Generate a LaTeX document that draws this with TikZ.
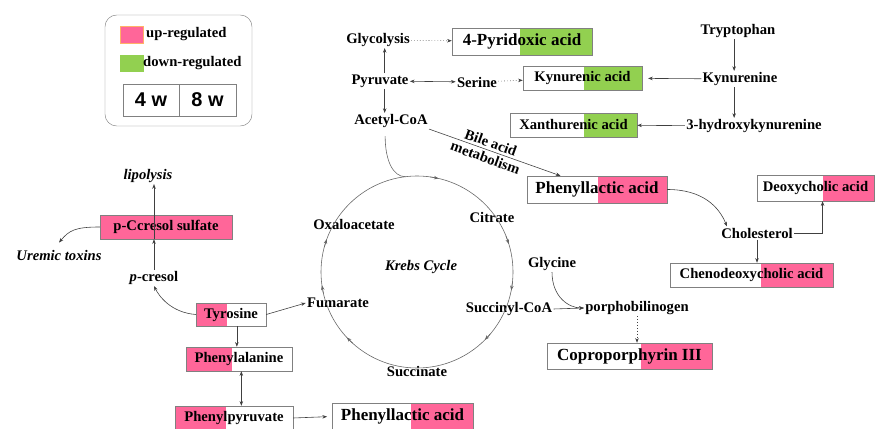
\documentclass[tikz,border=0pt]{standalone}
\usepackage{fontspec}
\setmainfont{Liberation Serif}
\newfontfamily\legendfont{Liberation Sans}
\usetikzlibrary{arrows.meta,calc}

\definecolor{upred}{RGB}{255,102,153}
\definecolor{downgreen}{RGB}{146,208,80}

\begin{document}
\begin{tikzpicture}[x=0.03cm,y=-0.03cm,
font=\bfseries\fontsize{12.5}{14}\selectfont,
every node/.style={inner sep=1pt},
big/.style={font=\bfseries\fontsize{14.5}{16}\selectfont},
ital/.style={font=\bfseries\itshape\fontsize{12.5}{14}\selectfont},
box/.style 2 args={draw=gray, fill=white, inner sep=0pt, minimum width=#1, minimum height=#2},
upr/.style={path picture={\fill[upred] ($(path picture bounding box.south west)!#1!(path picture bounding box.south east)$) rectangle (path picture bounding box.north east);}},
upl/.style={path picture={\fill[upred] (path picture bounding box.south west) rectangle ($(path picture bounding box.north west)!#1!(path picture bounding box.north east)$);}},
dnr/.style={path picture={\fill[downgreen] ($(path picture bounding box.south west)!#1!(path picture bounding box.south east)$) rectangle (path picture bounding box.north east);}},
link/.style={draw=black!75, line width=0.5pt, -{Stealth[length=4pt,width=3pt]}},
dlink/.style={draw=black!75, line width=0.5pt, {Stealth[length=4pt,width=3pt]}-{Stealth[length=4pt,width=3pt]}},
dotlink/.style={link, dotted},
cyc/.style={draw=black!60, line width=0.5pt}]

\useasboundingbox (0,0) rectangle (875,429);

\draw[gray, rounded corners=10pt] (105,15) rectangle (252,126);
\node[draw=orange!60, fill=upred, minimum width=0.69cm, minimum height=0.51cm, inner sep=0pt] (upkey) at (131.5,34.5) {};
\node[anchor=west, inner sep=0pt] (uplabel) at (146,34) {up-regulated};
\node[draw=downgreen, fill=downgreen, minimum width=0.69cm, minimum height=0.48cm, inner sep=0pt] (downkey) at (131.5,63) {};
\node[anchor=west, inner sep=0pt] (downlabel) at (143,63) {down-regulated};
\node[draw=gray, minimum width=1.68cm, minimum height=0.96cm, inner sep=0pt, font=\legendfont\bfseries\fontsize{17}{19}\selectfont] (week4) at (151,100) {4 w};
\node[draw=gray, minimum width=1.71cm, minimum height=0.96cm, inner sep=0pt, font=\legendfont\bfseries\fontsize{17}{19}\selectfont] (week8) at (207.5,100) {8 w};

\node (glyco) at (378,40) {Glycolysis};
\node (pyruv) at (380,81) {Pyruvate};
\node (serine) at (477,82) {Serine};
\node (acetyl) at (391,121) {Acetyl-CoA};
\node[box={4.2cm}{0.81cm}, dnr=0.486, big] (pyrid) at (522,41.5) {4-Pyridoxic acid};
\node[box={3.57cm}{0.72cm}, dnr=0.51] (kynac) at (582.5,78) {Kynurenic acid};
\node[box={3.81cm}{0.72cm}, dnr=0.58] (xanth) at (573.5,125) {Xanthurenic acid};
\node (trypto) at (738,31) {Tryptophan};
\node (kynur) at (740,79) {Kynurenine};
\node (hydroxy) at (754,126) {3-hydroxykynurenine};

\node[box={4.2cm}{0.81cm}, upr=0.51, big] (placA) at (597,189.5) {Phenyllactic acid};
\node (cholest) at (757,233) {Cholesterol};
\node[box={3.51cm}{0.78cm}, upr=0.56] (deoxy) at (815.5,188) {Deoxycholic acid};
\node[box={4.89cm}{0.72cm}, upr=0.56] (cheno) at (751.5,275) {Chenodeoxycholic acid};
\node (glycine) at (552,264) {Glycine};
\node (porpho) at (637,308) {porphobilinogen};
\node[box={4.95cm}{0.78cm}, upr=0.57, big] (copro) at (629.5,356) {Coproporphyrin III};

\node (oxalo) at (354,224) {Oxaloacetate};
\node (citrate) at (492,217) {Citrate};
\node (fumarate) at (338,303) {Fumarate};
\node (succoa) at (509,309) {Succinyl-CoA};
\node (succinate) at (417,372) {Succinate};
\node[ital] (krebs) at (421,267) {Krebs Cycle};

\node[ital] (lipo) at (148,176) {lipolysis};
\node[box={3.96cm}{0.72cm}, fill=upred] (sulf) at (166,227) {p-Ccresol sulfate};
\node[ital] (uremic) at (59,255) {Uremic toxins};
\node (pcres) at (154,278) {\textit{p}-cresol};
\node[box={2.1cm}{0.69cm}, upl=0.44] (tyros) at (231,314.5) {Tyrosine};
\node[box={3.18cm}{0.72cm}, upl=0.43] (phenala) at (239,359) {Phenylalanine};
\node[box={3.54cm}{0.72cm}, upl=0.43] (phenpyr) at (234,418) {Phenylpyruvate};
\node[box={4.23cm}{0.81cm}, upr=0.56, big] (placB) at (402.5,416.5) {Phenyllactic acid};

\draw[dotlink] (glyco) -- (pyrid);
\draw[link] ([xshift=4pt]pyruv.north) -- ([xshift=4pt]pyruv.north |- glyco.south);
\draw[link] ([xshift=4pt]pyruv.south) -- ([xshift=4pt]pyruv.south |- acetyl.north);
\draw[dlink] (pyruv) -- (serine);
\draw[dotlink] (serine) -- (kynac);
\draw[link] ([xshift=-5pt]kynur.north |- trypto.south) -- ([xshift=-5pt]kynur.north);
\draw[link, shorten >=5pt] (kynur) -- (kynac);
\draw[link] ([xshift=-5pt]kynur.south) -- ([xshift=-5pt]kynur.south |- hydroxy.north);
\draw[link] (hydroxy) -- (xanth);
\draw[link] (acetyl.south east) -- node[pos=0.45, rotate=-20, align=center, font=\bfseries\fontsize{12.5}{13.5}\selectfont] (bile) {Bile acid\\metabolism} ($(placA.north west)!0.24!(placA.north east)$);
\draw[link] (placA.east) .. controls +(35,0) and +(-8,-20) .. ([xshift=6pt]cholest.north west);
\draw[link] (cholest.east) -| ($(deoxy.south west)!0.56!(deoxy.south east)$);
\draw[link] (cholest.south) -- (cholest.south |- cheno.north);
\draw[link] (glycine.south) .. controls +(0,25) and +(-15,0) .. (porpho.west);
\draw[link] (succoa.east) -- (porpho.west);
\draw[dotlink] (porpho.south) -- (porpho.south |- copro.north);

\coordinate (kc) at (417,272);
\coordinate (kin) at ($(kc)+(-97:96)$);
\draw[cyc] (kc) circle[radius=2.88cm];
\foreach \a in {-77,-17,11,45,137,172,200} {
\draw[cyc, -{Stealth[length=4pt,width=3pt]}] ($(kc)+(\a-5:96)$) -- ($(kc)+(\a:96)$);}
\draw[cyc] ([xshift=-5pt,yshift=-6pt]acetyl.south) .. controls +(0,25) and +(-12,0) .. (kin);

\draw[link] (tyros.east) -- (fumarate.west);
\draw[link] (tyros.west) .. controls +(-25,-2) and +(5,10) .. (pcres.south);
\draw[link] ([xshift=5pt]tyros.south) -- ([xshift=5pt]tyros.south |- phenala.north);
\draw[dlink] ([xshift=2pt]phenala.south) -- ([xshift=2pt]phenala.south |- phenpyr.north);
\draw[link, shorten >=4pt] (phenpyr.east) -- (placB.west);
\draw[link] (pcres.north) -- (pcres.north |- sulf.south);
\draw[link] (pcres.north |- sulf.south) -- (pcres.north |- lipo.south);
\draw[link] (sulf.west) .. controls +(-25,0) and +(10,-12) .. ([yshift=5pt]uremic.north);

\end{tikzpicture}
\end{document}
